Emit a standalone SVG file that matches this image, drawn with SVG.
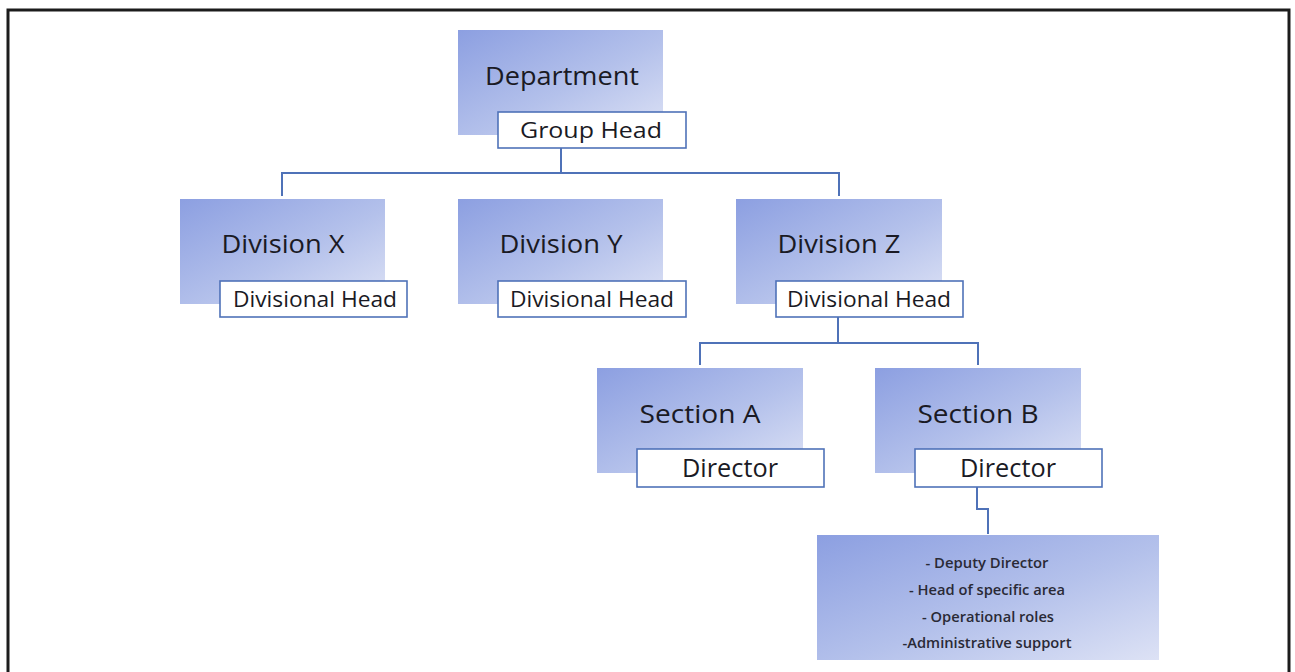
<svg xmlns="http://www.w3.org/2000/svg" width="1295" height="672" viewBox="0 0 1295 672">
  <defs>
    <linearGradient id="unitFill" x1="0" y1="0" x2="1" y2="1">
      <stop offset="0" stop-color="#8c9fe1"/>
      <stop offset="0.55" stop-color="#b4c1eb"/>
      <stop offset="1" stop-color="#dde2f5"/>
    </linearGradient>
    <style>
      .unit { fill: url(#unitFill); }
      .role { fill: #ffffff; stroke: #4f72b8; stroke-width: 1.6; }
      .wire { fill: none; stroke: #4f72b8; stroke-width: 2; }
      .frame { fill: #ffffff; stroke: #1c1c1c; stroke-width: 3; }
      text { font-family: "Open Sans", "Noto Sans", "Liberation Sans", sans-serif; fill: #1a1a24; text-anchor: middle; }
      .title { font-size: 26px; }
      .head { font-size: 22px; }
      .dir { font-size: 25px; }
      .list { font-size: 14px; font-weight: 600; fill: #2a2a36; }
    </style>
  </defs>

  <rect class="frame" x="8" y="10" width="1281" height="700"/>

  <!-- connectors -->
  <g id="connectors">
    <path class="wire" d="M561 148 V173 M282 196 V173 H839 V196"/>
    <path class="wire" d="M838 317 V343 M700 365 V343 H978 V365"/>
    <path class="wire" d="M977 487 V509 H988 V534"/>
  </g>

  <g id="department">
    <rect class="unit" x="458" y="30" width="205" height="105"/>
    <text class="title" x="562" y="85" textLength="154" lengthAdjust="spacingAndGlyphs">Department</text>
    <rect class="role" x="498" y="112" width="188" height="36"/>
    <text class="head" x="591" y="138" textLength="142" lengthAdjust="spacingAndGlyphs">Group Head</text>
  </g>

  <g id="division-x">
    <rect class="unit" x="180" y="199" width="205" height="105"/>
    <text class="title" x="283" y="253" textLength="123" lengthAdjust="spacingAndGlyphs">Division X</text>
    <rect class="role" x="220" y="281" width="187" height="36"/>
    <text class="head" x="315" y="307" textLength="164" lengthAdjust="spacingAndGlyphs">Divisional Head</text>
  </g>

  <g id="division-y">
    <rect class="unit" x="458" y="199" width="205" height="105"/>
    <text class="title" x="561" y="253" textLength="123" lengthAdjust="spacingAndGlyphs">Division Y</text>
    <rect class="role" x="498" y="281" width="188" height="36"/>
    <text class="head" x="592" y="307" textLength="164" lengthAdjust="spacingAndGlyphs">Divisional Head</text>
  </g>

  <g id="division-z">
    <rect class="unit" x="736" y="199" width="206" height="105"/>
    <text class="title" x="839" y="253" textLength="123" lengthAdjust="spacingAndGlyphs">Division Z</text>
    <rect class="role" x="776" y="281" width="187" height="36"/>
    <text class="head" x="869" y="307" textLength="164" lengthAdjust="spacingAndGlyphs">Divisional Head</text>
  </g>

  <g id="section-a">
    <rect class="unit" x="597" y="368" width="206" height="105"/>
    <text class="title" x="700" y="423" textLength="121" lengthAdjust="spacingAndGlyphs">Section A</text>
    <rect class="role" x="637" y="449" width="187" height="38"/>
    <text class="dir" x="730" y="477" textLength="96" lengthAdjust="spacingAndGlyphs">Director</text>
  </g>

  <g id="section-b">
    <rect class="unit" x="875" y="368" width="206" height="105"/>
    <text class="title" x="978" y="423" textLength="121" lengthAdjust="spacingAndGlyphs">Section B</text>
    <rect class="role" x="915" y="449" width="187" height="38"/>
    <text class="dir" x="1008" y="477" textLength="96" lengthAdjust="spacingAndGlyphs">Director</text>
  </g>

  <g id="section-b-staff">
    <rect class="unit" x="817" y="535" width="342" height="125"/>
    <text class="list" x="987" y="568" textLength="123" lengthAdjust="spacingAndGlyphs">- Deputy Director</text>
    <text class="list" x="987" y="595" textLength="156" lengthAdjust="spacingAndGlyphs">- Head of specific area</text>
    <text class="list" x="988" y="622" textLength="132" lengthAdjust="spacingAndGlyphs">- Operational roles</text>
    <text class="list" x="987" y="648" textLength="169" lengthAdjust="spacingAndGlyphs">-Administrative support</text>
  </g>
</svg>
